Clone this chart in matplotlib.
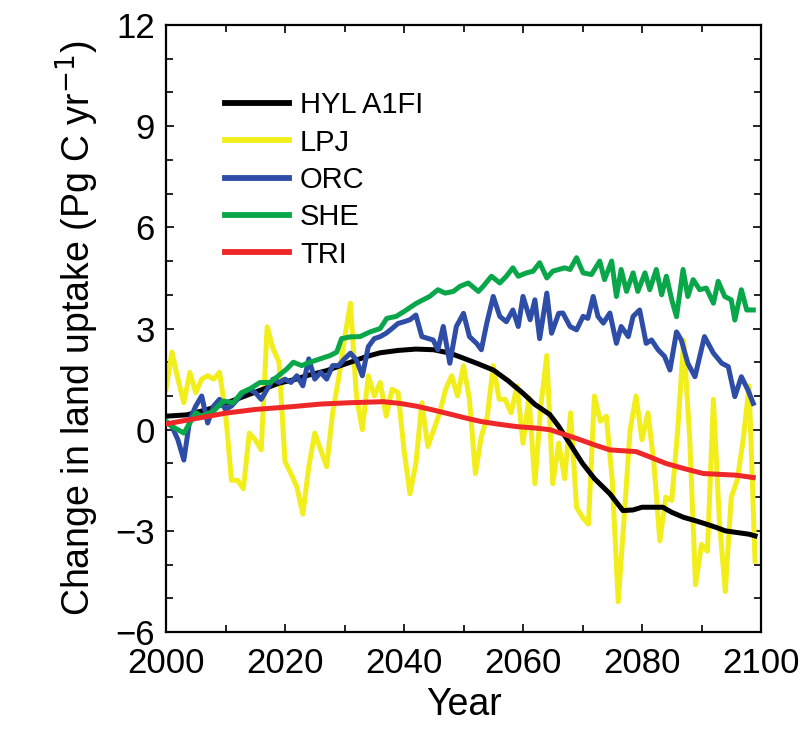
import matplotlib
matplotlib.use("Agg")
import matplotlib.pyplot as plt
from matplotlib.ticker import MultipleLocator

plt.rcParams['font.family'] = ['Liberation Sans', 'DejaVu Sans']

# HYL A1FI (smooth)
hyl_years = [2000, 2003.5, 2007, 2010, 2013, 2016, 2019, 2021.5, 2024, 2027, 2029, 2031, 2033.7,
             2036, 2039, 2042, 2045, 2047.7, 2050, 2052.5, 2055, 2057.5, 2060, 2062, 2064.5, 2066,
             2068, 2070, 2072, 2074.6, 2076.8, 2078.5, 2080, 2082, 2083.5, 2085, 2087, 2089,
             2090.8, 2092.5, 2094, 2096, 2098, 2099]
hyl = [0.4, 0.44, 0.6, 0.78, 0.98, 1.18, 1.38, 1.48, 1.62, 1.75, 1.88, 2.0, 2.17,
       2.28, 2.35, 2.39, 2.37, 2.27, 2.12, 1.95, 1.77, 1.45, 1.08, 0.75, 0.45, 0.1,
       -0.45, -1.0, -1.45, -1.9, -2.4, -2.38, -2.3, -2.3, -2.3, -2.45, -2.6, -2.7,
       -2.8, -2.9, -3.0, -3.05, -3.1, -3.15]

# LPJ (yearly)
lpj_years = list(range(2000, 2100))
lpj = [1.2, 2.3, 1.5, 0.8, 1.7, 1.1, 1.5, 1.6, 1.5, 1.7,
       0.5, -1.5, -1.5, -1.75, -0.1, -0.3, -0.6, 3.05, 2.4, 2.0,
       -0.95, -1.3, -1.7, -2.5, -1.1, -0.1, -0.6, -1.1, 0.5, 1.5,
       2.7, 3.75, 1.0, 0.0, 1.6, 1.0, 1.4, 0.4, 1.2, 1.1,
       -0.6, -1.9, -1.0, 0.8, -0.5, 0.0, 0.5, 1.2, 1.6, 1.0,
       1.9, 0.9, -1.3, -0.2, 0.4, 1.9, 0.9, 0.9, 0.5, 1.3,
       -0.4, 0.95, -1.6, 0.7, 2.2, -1.6, -0.4, -1.45, 0.5, -2.3,
       -2.6, -2.8, 1.0, 0.25, 0.4, -1.5, -5.1, -2.6, 0.0, 1.0,
       -0.3, 0.5, -1.0, -3.3, -2.0, -2.1, 0.0, 2.65, -0.2, -4.6,
       -3.4, -3.6, 0.9, -2.7, -4.8, -2.0, -1.5, -0.3, 1.3, -3.9]

# ORC
orc_years = [2000, 2001, 2002, 2003, 2004, 2005, 2006, 2007, 2008, 2009,
             2010, 2011, 2012, 2013, 2014, 2015, 2016, 2017, 2018, 2019,
             2020, 2021, 2022, 2023, 2024, 2025, 2026, 2027, 2028, 2029,
             2030, 2031, 2032, 2033, 2034, 2035, 2036, 2037, 2038, 2039,
             2040, 2041, 2042, 2043, 2044.9, 2045.7, 2046.6, 2047.7, 2048.8, 2050,
             2051, 2052.2, 2053, 2053.9, 2055, 2056.1, 2057.2, 2058.3, 2059.2, 2060,
             2061.2, 2062, 2062.8, 2064, 2064.8, 2066, 2066.7, 2067.9, 2069, 2070.1,
             2070.9, 2071.8, 2072.6, 2073.5, 2074.6, 2075.7, 2076.5, 2077.7, 2078.5, 2079.6,
             2080.7, 2081.6, 2082.7, 2083.8, 2084.7, 2085.8, 2086.6, 2087.7, 2088.9, 2090.5,
             2092, 2093.4, 2094.5, 2095.6, 2096.7, 2097.8, 2098.7]
orc = [0.24, 0.1, -0.3, -0.9, 0.3, 0.7, 1.0, 0.2, 0.7, 0.9,
       0.6, 0.7, 0.9, 1.1, 1.2, 1.1, 0.9, 1.2, 1.5, 1.4,
       1.5, 1.4, 1.6, 1.3, 2.1, 1.5, 1.7, 1.5, 1.9, 1.9,
       2.1, 2.27, 2.07, 1.6, 2.46, 2.7, 2.76, 2.86, 3.0, 3.15,
       3.2, 3.26, 3.4, 2.76, 2.66, 2.37, 3.06, 1.97, 3.06, 3.45,
       2.76, 2.56, 2.37, 3.15, 3.95, 3.36, 3.2, 3.55, 3.06, 3.95,
       3.26, 3.85, 2.7, 4.05, 2.86, 3.45, 3.46, 3.06, 2.96, 3.36,
       3.3, 3.95, 3.36, 3.16, 3.46, 2.56, 3.06, 2.76, 3.36, 3.55,
       2.56, 2.66, 2.37, 2.17, 1.77, 2.9, 2.66, 1.97, 1.57, 2.76,
       2.27, 1.97, 1.87, 0.98, 1.57, 1.18, 0.78]

# SHE
she_years = [2000, 2001, 2003, 2004, 2005, 2006, 2008, 2009.6, 2011.3, 2012.7,
             2014, 2015.8, 2017.5, 2018.9, 2020.3, 2021.4, 2022.8, 2024.2, 2025.9, 2027.6,
             2028.7, 2029.5, 2030.9, 2032.6, 2034.3, 2036, 2037.1, 2038.7, 2040.4, 2042.1,
             2044.3, 2045.7, 2046.9, 2048.3, 2049.4, 2050.8, 2052.5, 2053.3, 2054.7, 2056.1,
             2057.2, 2058.3, 2059.2, 2060.6, 2061.7, 2062.8, 2064, 2065, 2066, 2067,
             2067.9, 2069, 2070.1, 2071.5, 2072.9, 2073.7, 2074.9, 2075.7, 2076.5, 2077.4,
             2078.5, 2079.3, 2080.5, 2081.3, 2082.4, 2083.3, 2084.1, 2085, 2085.8, 2086.9,
             2087.7, 2088.6, 2089.7, 2090.8, 2092, 2092.8, 2093.9, 2095, 2095.6, 2096.7,
             2097.6, 2098.7]
she = [0.24, 0.1, -0.1, 0.2, 0.5, 0.4, 0.55, 0.85, 0.8, 1.1,
       1.2, 1.4, 1.4, 1.6, 1.8, 2.0, 1.9, 2.0, 2.1, 2.2,
       2.3, 2.7, 2.75, 2.76, 2.9, 3.0, 3.3, 3.36, 3.55, 3.75,
       3.95, 4.15, 4.05, 4.1, 4.25, 4.35, 4.1, 4.25, 4.55, 4.35,
       4.55, 4.8, 4.55, 4.65, 4.7, 4.95, 4.5, 4.7, 4.75, 4.8,
       4.75, 5.1, 4.65, 4.6, 5.0, 4.45, 5.0, 3.95, 4.75, 4.1,
       4.65, 4.1, 4.65, 4.15, 4.75, 4.0, 4.55, 3.85, 3.35, 4.75,
       3.95, 4.45, 4.15, 4.2, 3.75, 4.4, 3.95, 3.85, 3.25, 4.15,
       3.55, 3.55]

# TRI (smooth)
tri_years = [2000, 2005, 2010, 2015, 2021, 2026, 2031, 2036.5, 2039.3, 2042, 2045, 2048,
             2050.5, 2053, 2056, 2059, 2062, 2064.5, 2069, 2072, 2074.6, 2079, 2081.5, 2084,
             2087, 2090.3, 2095.9, 2098.7]
tri = [0.17, 0.33, 0.49, 0.6, 0.68, 0.76, 0.8, 0.83, 0.78, 0.7, 0.58, 0.45,
       0.34, 0.24, 0.16, 0.09, 0.05, 0.0, -0.26, -0.45, -0.6, -0.65, -0.82, -1.0,
       -1.15, -1.3, -1.35, -1.42]

y_ticks = [-6, -3, 0, 3, 6, 9, 12]
y_labels = ['\u2212' + str(-v) if v < 0 else str(v) for v in y_ticks]

fig = plt.figure(figsize=(8.07, 7.31), dpi=100)
ax = fig.add_axes([0.2057, 0.1354, 0.7373, 0.8304])

ax.plot(hyl_years, hyl, color='black', lw=3.6, label='HYL A1FI', zorder=3)
ax.plot(lpj_years, lpj, color='#f2ee1c', lw=3.6, label='LPJ', zorder=2)
ax.plot(orc_years, orc, color='#2e4da6', lw=3.6, label='ORC', zorder=4)
ax.plot(she_years, she, color='#0aa64a', lw=3.6, label='SHE', zorder=5)
ax.plot(tri_years, tri, color='#ee2828', lw=3.6, label='TRI', zorder=6)

ax.set_yticks(y_ticks)
ax.set_yticklabels(y_labels)
ax.set_xlim(2000, 2100)
ax.set_ylim(-6, 12)
ax.xaxis.set_major_locator(MultipleLocator(20))
ax.xaxis.set_minor_locator(MultipleLocator(10))
ax.yaxis.set_minor_locator(MultipleLocator(1))
ax.tick_params(which='both', direction='in', top=True, right=True, width=1.2)
ax.tick_params(which='major', length=6, labelsize=25)
ax.tick_params(axis='x', which='major', pad=11)
ax.tick_params(axis='y', which='major', pad=8)
ax.tick_params(which='minor', length=5)
for s in ax.spines.values():
    s.set_linewidth(1.6)

ax.set_xlabel('Year', fontsize=27, labelpad=5)
ax.set_ylabel('Change in land uptake (Pg C yr$^{-1}$)', fontsize=27, labelpad=10)

leg = ax.legend(loc='upper left', bbox_to_anchor=(0.08, 0.91), frameon=False, fontsize=21,
                handlelength=2.2, handletextpad=0.36, labelspacing=0.32, borderaxespad=0)
for h in leg.get_lines():
    h.set_linewidth(4.2)

fig.savefig('out.png', dpi=100)
